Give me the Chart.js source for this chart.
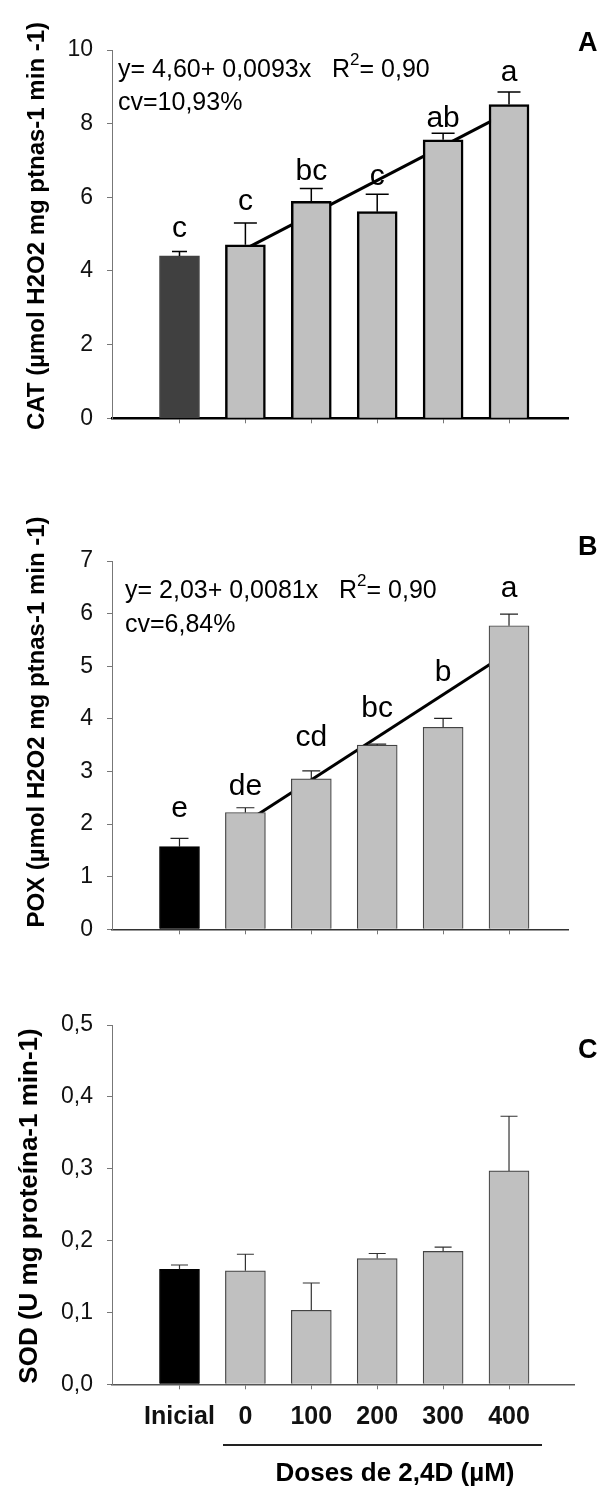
<!DOCTYPE html>
<html>
<head>
<meta charset="utf-8">
<script src="https://cdn.jsdelivr.net/npm/chart.js@4.4.1/dist/chart.umd.min.js"></script>
<style>
  html, body { margin: 0; padding: 0; background: #fff; }
  .panel { position: absolute; left: 0; width: 604px; }
  canvas { display: block; }
</style>
</head>
<body>
<div class="panel" style="top:0"><canvas id="cat" width="604" height="470"></canvas></div>
<div class="panel" style="top:470px"><canvas id="pox" width="604" height="490"></canvas></div>
<div class="panel" style="top:960px"><canvas id="sod" width="604" height="535"></canvas></div>
<script>
// Treatments on the x axis
const categories = ['Inicial', '0', '100', '200', '300', '400'];

// CAT activity
const catMeans    = [4.41, 4.71, 5.89, 5.61, 7.56, 8.52];
const catErrors   = [0.12, 0.59, 0.35, 0.47, 0.18, 0.34];
const catLetters  = ['c', 'c', 'bc', 'c', 'ab', 'a'];
const catLetterAt = [4.93, 5.66, 6.48, 6.34, 7.92, 9.15];
const catTrend    = [4.60, 8.32];          // fitted line at 0 and 400 µM
const catTicks    = [0, 2, 4, 6, 8, 10];

// POX activity
const poxMeans    = [1.57, 2.22, 2.86, 3.50, 3.84, 5.77];
const poxErrors   = [0.16, 0.09, 0.15, 0.02, 0.17, 0.22];
const poxLetters  = ['e', 'de', 'cd', 'bc', 'b', 'a'];
const poxLetterAt = [2.14, 2.56, 3.48, 4.04, 4.71, 6.32];
const poxTrend    = [2.03, 5.27];
const poxTicks    = [0, 1, 2, 3, 4, 5, 6, 7];

// SOD activity
const sodMeans    = [0.160, 0.158, 0.103, 0.175, 0.185, 0.297];
const sodErrors   = [0.006, 0.023, 0.038, 0.007, 0.006, 0.076];
const sodTicks    = [0, 0.1, 0.2, 0.3, 0.4, 0.5];

const FONT = '"Liberation Sans", Arial, sans-serif';
const trendFrom = categories.indexOf('0');
const trendTo = categories.indexOf('400');

// Per-panel decorations drawn on top of the chart
const panels = {
  cat: {
    title: 'CAT (µmol H2O2 mg ptnas-1 min -1)', titleX: 43.5, titleY: 226, titleSize: 24,
    letter: 'A', letterY: 51,
    eq: ['y= 4,60+ 0,0093x   R', '= 0,90'], eqX: 118, eqY: 77, cv: 'cv=10,93%', cvY: 110,
    means: catMeans, errors: catErrors, letters: catLetters, letterAt: catLetterAt,
    capWide: 23, capFirst: 15, errColor: '#000', errWidth: 1.5
  },
  pox: {
    title: 'POX (µmol H2O2 mg ptnas-1 min -1)', titleX: 43.5, titleY: 252, titleSize: 24,
    letter: 'B', letterY: 85,
    eq: ['y= 2,03+ 0,0081x   R', '= 0,90'], eqX: 125, eqY: 128, cv: 'cv=6,84%', cvY: 161.5,
    means: poxMeans, errors: poxErrors, letters: poxLetters, letterAt: poxLetterAt,
    capWide: 18, capFirst: 18, errColor: '#222', errWidth: 1.2
  },
  sod: {
    title: 'SOD (U mg proteína-1 min-1)', titleX: 37, titleY: 246, titleSize: 26,
    letter: 'C', letterY: 98,
    means: sodMeans, errors: sodErrors,
    capWide: 17, capFirst: 17, errColor: '#333', errWidth: 1.2,
    footer: true
  }
};

const decorations = {
  id: 'decorations',
  afterDatasetsDraw(chart) {
    const p = panels[chart.canvas.id];
    const ctx = chart.ctx, xs = chart.scales.x, ys = chart.scales.y;
    ctx.save();
    // one-sided error bars
    ctx.strokeStyle = p.errColor;
    ctx.lineWidth = p.errWidth;
    p.means.forEach((m, i) => {
      const x = xs.getPixelForValue(i);
      const y0 = ys.getPixelForValue(m);
      const y1 = ys.getPixelForValue(m + p.errors[i]);
      const half = (i === 0 ? p.capFirst : p.capWide) / 2;
      ctx.beginPath();
      ctx.moveTo(x, y0); ctx.lineTo(x, y1);
      ctx.moveTo(x - half, y1); ctx.lineTo(x + half, y1);
      ctx.stroke();
    });
    // mean comparison letters
    if (p.letters) {
      ctx.fillStyle = '#000';
      ctx.font = '30px ' + FONT;
      ctx.textAlign = 'center';
      ctx.textBaseline = 'alphabetic';
      p.letters.forEach((t, i) => {
        ctx.fillText(t, xs.getPixelForValue(i), ys.getPixelForValue(p.letterAt[i]));
      });
    }
    ctx.restore();
  },
  afterDraw(chart) {
    const p = panels[chart.canvas.id];
    const ctx = chart.ctx;
    ctx.save();
    ctx.fillStyle = '#000';
    // y axis title
    ctx.save();
    ctx.translate(p.titleX, p.titleY);
    ctx.rotate(-Math.PI / 2);
    ctx.font = 'bold ' + p.titleSize + 'px ' + FONT;
    ctx.textAlign = 'center';
    ctx.textBaseline = 'alphabetic';
    ctx.fillText(p.title, 0, 0);
    ctx.restore();
    // panel letter
    ctx.font = 'bold 27px ' + FONT;
    ctx.textAlign = 'left';
    ctx.textBaseline = 'alphabetic';
    ctx.fillText(p.letter, 578, p.letterY);
    // regression equation
    if (p.eq) {
      ctx.font = '25px ' + FONT;
      let x = p.eqX;
      ctx.fillText(p.eq[0], x, p.eqY);
      x += ctx.measureText(p.eq[0]).width;
      ctx.font = '17px ' + FONT;
      ctx.fillText('2', x, p.eqY - 12);
      x += ctx.measureText('2').width;
      ctx.font = '25px ' + FONT;
      ctx.fillText(p.eq[1], x, p.eqY);
      ctx.fillText(p.cv, p.eqX, p.cvY);
    }
    // dose bracket and axis caption
    if (p.footer) {
      ctx.strokeStyle = '#222';
      ctx.lineWidth = 2;
      ctx.beginPath();
      ctx.moveTo(223, 485); ctx.lineTo(542, 485);
      ctx.stroke();
      ctx.font = 'bold 26px ' + FONT;
      ctx.textAlign = 'center';
      ctx.fillText('Doses de 2,4D (µM)', 395, 521);
    }
    ctx.restore();
  }
};

function makeChart(id, o) {
  const datasets = [{
    type: 'bar',
    data: o.means.map((v, i) => ({ x: i, y: v })),
    backgroundColor: categories.map((_, i) => i === 0 ? o.firstColor : '#c0c0c0'),
    borderColor: categories.map((_, i) => i === 0 ? o.firstColor : o.barEdge),
    borderWidth: categories.map((_, i) => i === 0 ? 1 : o.barEdgeWidth),
    barThickness: 40,
    order: 1
  }];
  if (o.trend) {
    datasets.push({
      type: 'line',
      data: [{ x: trendFrom, y: o.trend[0] }, { x: trendTo, y: o.trend[1] }],
      borderColor: '#000',
      borderWidth: 3,
      pointRadius: 0,
      fill: false,
      order: 2
    });
  }
  return new Chart(document.getElementById(id), {
    type: 'bar',
    data: { datasets },
    plugins: [decorations],
    options: {
      responsive: false,
      animation: false,
      events: [],
      layout: { padding: o.padding },
      plugins: { legend: { display: false }, tooltip: { enabled: false } },
      scales: {
        x: {
          type: 'linear',
          min: -1.024, max: o.xMax,
          offset: false,
          bounds: 'data',
          afterBuildTicks: s => { s.ticks = categories.map((_, i) => ({ value: i })); },
          afterFit: s => { s.height = o.xHeight; },
          ticks: {
            display: o.showLabels,
            autoSkip: false,
            maxRotation: 0,
            padding: 13,
            color: '#111',
            font: { family: FONT, size: 25, weight: 'bold' },
            callback: (v, i) => categories[i]
          },
          grid: { drawOnChartArea: false, offset: false, tickLength: 5, color: '#777', lineWidth: 1 },
          border: { color: o.xAxisColor, width: o.xAxisWidth }
        },
        y: {
          min: o.yTicks[0], max: o.yTicks[o.yTicks.length - 1],
          afterBuildTicks: s => { s.ticks = o.yTicks.map(v => ({ value: v })); },
          afterFit: s => { s.width = 112; },
          ticks: {
            padding: 14,
            color: '#111',
            font: { family: FONT, size: 23 },
            callback: v => o.fmt(v)
          },
          grid: { drawOnChartArea: false, tickLength: 5, color: '#777', lineWidth: 1 },
          border: { color: '#777', width: 1 }
        }
      }
    }
  });
}

makeChart('cat', {
  means: catMeans, trend: catTrend, yTicks: catTicks, fmt: v => String(v),
  firstColor: '#404040', barEdge: '#000', barEdgeWidth: 2.5,
  padding: { top: 50, right: 36, bottom: 41.7, left: 0 },
  xMax: 5.895, xHeight: 10, showLabels: false, xAxisColor: '#000', xAxisWidth: 2.5
});

makeChart('pox', {
  means: poxMeans, trend: poxTrend, yTicks: poxTicks, fmt: v => String(v),
  firstColor: '#000', barEdge: '#444', barEdgeWidth: 1.2,
  padding: { top: 91, right: 36, bottom: 20.7, left: 0 },
  xMax: 5.895, xHeight: 10, showLabels: false, xAxisColor: '#333', xAxisWidth: 1.5
});

makeChart('sod', {
  means: sodMeans, trend: null, yTicks: sodTicks, fmt: v => v.toFixed(1).replace('.', ','),
  firstColor: '#000', barEdge: '#444', barEdgeWidth: 1.2,
  padding: { top: 65, right: 30, bottom: 70.7, left: 0 },
  xMax: 5.986, xHeight: 40, showLabels: true, xAxisColor: '#555', xAxisWidth: 1.5
});
</script>
</body>
</html>
